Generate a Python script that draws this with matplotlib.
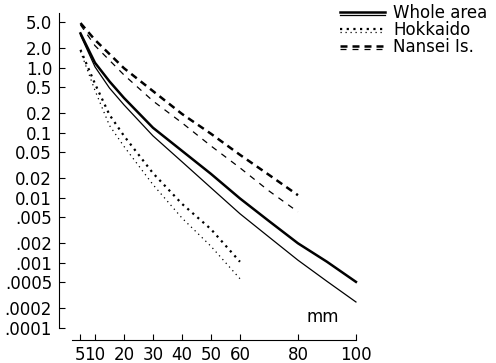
import matplotlib
matplotlib.use("Agg")
import matplotlib.pyplot as plt
from matplotlib.lines import Line2D

# rainfall amount (mm) vs frequency, log scale
whole_x = [5, 10, 15, 20, 30, 40, 50, 60, 70, 80, 90, 100]
whole_thick = [3.4, 1.2, 0.62, 0.345, 0.12, 0.053, 0.0234, 0.0098, 0.0044, 0.002, 0.00104, 0.00051]
whole_thin = [3.2, 1.04, 0.49, 0.27, 0.09, 0.036, 0.0143, 0.0057, 0.0025, 0.0011, 0.00052, 0.00025]

hok_x = [5, 10, 15, 20, 30, 40, 50, 60]
hok_thick = [1.9, 0.57, 0.19, 0.09, 0.024, 0.0081, 0.0033, 0.00104]
hok_thin = [1.8, 0.45, 0.13, 0.062, 0.016, 0.0049, 0.0018, 0.00057]

nan_x = [5, 10, 20, 30, 40, 50, 60, 70, 80]
nan_thick = [4.9, 2.7, 0.99, 0.44, 0.196, 0.097, 0.046, 0.0226, 0.011]
nan_thin = [4.6, 2.2, 0.78, 0.31, 0.143, 0.063, 0.029, 0.0128, 0.0061]

xticks = [5, 10, 20, 30, 40, 50, 60, 80, 100]
yticks = [5.0, 2.0, 1.0, 0.5, 0.2, 0.1, 0.05, 0.02, 0.01, 0.005, 0.002, 0.001, 0.0005, 0.0002, 0.0001]
ylabels = ["5.0", "2.0", "1.0", "0.5", "0.2", "0.1", "0.05", "0.02", "0.01",
           ".005", ".002", ".001", ".0005", ".0002", ".0001"]

plt.rcParams['font.family'] = ['DejaVu Sans']

fig = plt.figure(figsize=(4.96, 3.63), dpi=100)
ax = fig.add_axes([59 / 496, 23 / 363, 301 / 496, 327 / 363])

thick = 1.8
thin = 0.9
ax.plot(whole_x, whole_thick, color='black', lw=thick)
ax.plot(whole_x, whole_thin, color='black', lw=thin)
ax.plot(hok_x, hok_thick, color='black', lw=1.6, linestyle=(0, (1, 2)))
ax.plot(hok_x, hok_thin, color='black', lw=thin, linestyle=(0, (1, 3)))
ax.plot(nan_x, nan_thick, color='black', lw=thick, linestyle=(0, (2.8, 2)))
ax.plot(nan_x, nan_thin, color='black', lw=thin, linestyle=(0, (4.8, 4.8)))

ax.set_yscale('log')
ax.set_xlim(-2.41, 101.4)
ax.set_ylim(6.5e-5, 7.0)
ax.set_xticks(xticks)
ax.set_xticklabels([str(t) for t in xticks])
ax.set_yticks(yticks)
ax.set_yticklabels(ylabels)
ax.minorticks_off()

for s in ['top', 'right']:
    ax.spines[s].set_visible(False)
ax.spines['left'].set_bounds(1e-4, 7.0)
ax.spines['bottom'].set_bounds(2.07, 100)
ax.tick_params(direction='in', length=4, width=0.8, labelsize=12)
ax.tick_params(axis='y', pad=5)
ax.tick_params(axis='x', pad=4)

fig.text(323 / 496, 1 - 317 / 363, "mm", fontsize=12, ha='center', va='center')

# legend keys drawn by hand: thick + thin pair per region
def key(y1, y2, ls_thick, ls_thin, lw1):
    x0, x1 = 340 / 496, 385 / 496
    fig.add_artist(Line2D([x0, x1], [1 - y1 / 363] * 2, color='black', lw=lw1, linestyle=ls_thick))
    fig.add_artist(Line2D([x0, x1], [1 - y2 / 363] * 2, color='black', lw=thin, linestyle=ls_thin))

key(11.5, 15, '-', '-', thick)
key(28.5, 32, (0, (1, 2)), (0, (1, 3)), 1.6)
key(45.5, 49, (0, (2.8, 2)), (0, (4.8, 4.8)), thick)
for y, t in [(13, "Whole area"), (30, "Hokkaido"), (47, "Nansei Is.")]:
    fig.text(393 / 496, 1 - y / 363, t, fontsize=12, ha='left', va='center')

plt.savefig("out.png", dpi=100)
